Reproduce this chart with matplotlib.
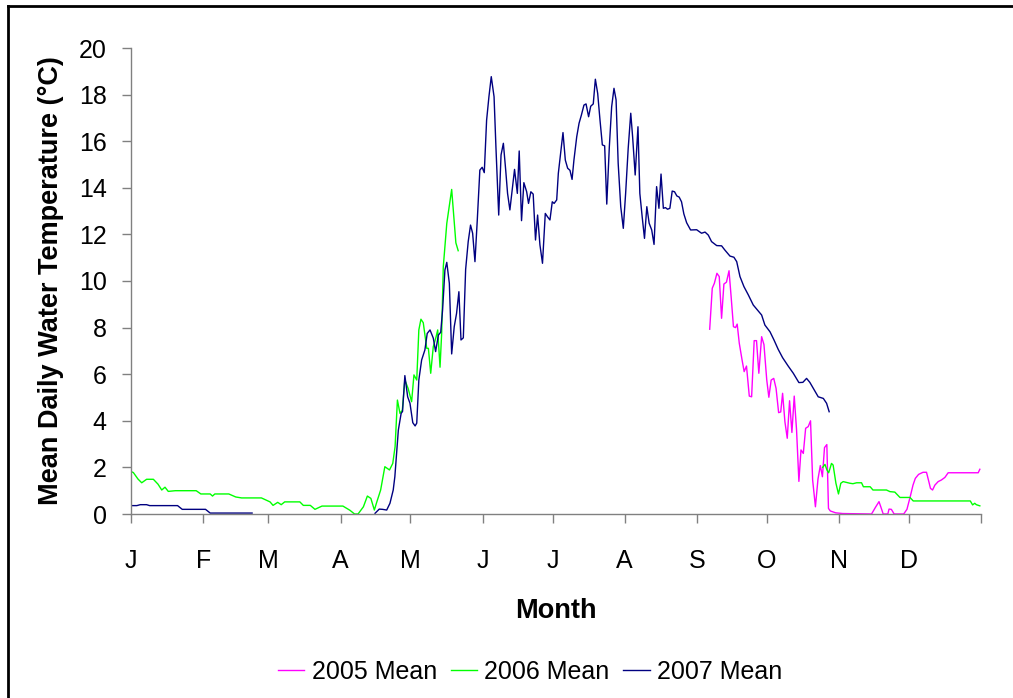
import numpy as np
import matplotlib
matplotlib.use("Agg")
import matplotlib.pyplot as plt
from matplotlib.lines import Line2D

plt.rcParams['font.family'] = ['Liberation Sans', 'DejaVu Sans']

# ---------------- data (day of year, mean daily water temperature) ----------------
month_labels = ["J", "F", "M", "A", "M", "J", "J", "A", "S", "O", "N", "D"]
month_starts = [0, 31, 59, 90, 120, 151, 181, 212, 243, 273, 304, 334, 365]

days_2005 = [248.5, 249.6, 250.5, 251.6, 252.6, 253.6, 254.6, 255.7, 256.8, 257.7, 258.7, 259.6,
             260.3, 261.2, 262.4, 263.3, 264.3, 265.5, 266.5, 267.6, 268.6, 269.6, 270.8, 271.8,
             273.0, 273.9, 274.9, 276.0, 277.0, 278.1, 279.0, 279.8, 280.8, 281.8, 282.8, 283.8,
             284.8, 285.8, 286.8, 287.7, 288.7, 289.7, 290.8, 291.8, 292.7, 293.9, 295.0, 296.0,
             296.9, 297.8, 298.8, 299.5, 300.3, 302.6, 305.6, 318.0, 319.7, 321.2, 322.0, 323.0,
             325.0, 325.5, 326.5, 327.7, 331.8, 333.2, 334.6, 335.8, 336.8, 338.2, 340.1, 341.6,
             342.6, 343.3, 344.2, 345.2, 346.6, 348.0, 349.5, 350.9, 363.8, 364.5]
temp_2005 = [7.93, 9.69, 9.90, 10.33, 10.19, 8.40, 9.87, 9.95, 10.44, 9.33, 8.04, 8.00,
             8.15, 7.33, 6.61, 6.11, 6.35, 5.06, 5.03, 7.44, 7.44, 6.04, 7.61, 7.27,
             5.75, 5.01, 5.75, 5.82, 5.39, 4.35, 4.38, 5.18, 3.96, 3.25, 4.86, 3.50,
             5.06, 3.60, 1.40, 2.75, 2.60, 3.68, 3.75, 4.00, 1.46, 0.31, 1.50, 2.08,
             1.60, 2.85, 2.98, 0.24, 0.13, 0.05, 0.02, 0.00, 0.29, 0.53, 0.30, 0.00,
             0.00, 0.21, 0.20, 0.00, 0.00, 0.20, 0.74, 1.24, 1.53, 1.70, 1.79, 1.79,
             1.39, 1.10, 1.03, 1.24, 1.39, 1.46, 1.57, 1.77, 1.77, 1.92]

days_2006 = [0, 1, 3, 4.6, 6.7, 9.6, 11.6, 13.2, 14.6, 16, 19, 28, 30, 34, 35, 36, 42, 45,
             47.5, 56, 59.7, 61, 63, 64.5, 66, 72.5, 74, 77, 79, 82, 91, 94, 96, 97.5, 99.8,
             101.5, 103, 104.5, 105.5, 107.2, 109, 111, 112.4, 113.4, 114.4, 115.5, 116.5,
             117.6, 119, 120.5, 121.5, 122.7, 123.6, 124.5, 125.5, 127, 127.7, 128.7, 129.8,
             131, 131.7, 132.7, 133.4, 134.1, 135.6, 137.7, 139.5, 140.5,
             np.nan,
             297, 298, 298.8, 299.6, 300.8, 301.5, 302.7, 303.8, 304.8, 305.8, 308.7, 310,
             311.6, 313.7, 314.5, 317.4, 318.6, 324.4, 325.9, 328, 330.2, 334.5, 335.9,
             360.4, 361.4, 362.3, 363, 364.5]
temp_2006 = [1.82, 1.78, 1.50, 1.34, 1.49, 1.49, 1.28, 1.03, 1.15, 0.97, 1.00, 1.00, 0.86, 0.86,
             0.77, 0.86, 0.86, 0.73, 0.69, 0.69, 0.52, 0.37, 0.50, 0.40, 0.52, 0.52, 0.37, 0.37,
             0.20, 0.34, 0.34, 0.16, 0.00, 0.00, 0.31, 0.77, 0.67, 0.17, 0.50, 1.03, 2.03, 1.89,
             2.17, 2.89, 4.89, 4.32, 4.45, 5.75, 5.39, 4.82, 5.97, 5.75, 7.90, 8.36, 8.21, 7.11,
             7.11, 6.04, 7.18, 7.60, 7.90, 6.30, 7.75, 10.61, 12.47, 13.93, 11.64, 11.30,
             np.nan,
             2.00, 2.13, 1.90, 1.77, 2.17, 2.10, 1.32, 0.86, 1.32, 1.39, 1.32, 1.30,
             1.34, 1.34, 1.17, 1.17, 1.03, 1.03, 0.96, 0.94, 0.71, 0.71, 0.56,
             0.56, 0.39, 0.46, 0.40, 0.35]

days_2007 = [0, 2.5, 4, 6.7, 8, 20, 22, 32, 34, 52,
             np.nan,
             104.8, 106.6, 108, 109.8, 111.2, 112.6, 113.3, 114.8, 116, 116.6, 117.6, 118.8,
             119.8, 121, 122, 122.7, 123.6, 124.8, 126.2, 127.2, 128.4, 129.8, 130.8, 132, 133,
             133.8, 134.8, 135.6, 136.7, 137.7, 138.8, 139.8, 140.8, 141.7, 142.7, 143.7, 144.8,
             145.8, 146.7, 147.7, 148.7, 149.8, 150.8, 151.7, 152.7, 153.7, 154.7, 155.9, 156.7,
             157.9, 158.9, 159.9, 160.9, 161.7, 162.7, 163.7, 164.7, 165.9, 166.7, 167.7, 168.7,
             169.9, 170.7, 171.7, 172.7, 173.7, 174.6, 175.6, 176.7, 177.9, 178.9, 179.9, 180.9,
             181.7, 182.8, 183.5, 184.5, 185.5, 186.5, 187.5, 188.5, 189.4, 190.2, 191.4, 192.4,
             193.4, 194.5, 195.4, 196.5, 197.4, 198.5, 199.4, 200.4, 201.4, 202.4, 203.4, 204.3,
             205.4, 206.4, 207.4, 208.3, 209.2, 210.3, 211.4, 212.4, 213.5, 214.6, 215.4, 216.5,
             217.7, 218.5, 219.5, 220.5, 221.5, 222.5, 223.6, 224.6, 225.7, 226.7, 227.6, 228.6,
             229.5, 230.4, 231.4, 232.4, 233.4, 234.4, 235.4, 236.4, 237.4, 238.6, 240.3, 242.9,
             245, 246.5, 247.9, 249.3, 251.5, 253.6, 255, 257.2, 258.9, 260.1, 261.5, 263.2,
             265.1, 267.2, 269.4, 270.8, 272.2, 274.4, 276.1, 277.9, 279.8, 282.2, 284.4, 286.8,
             288.5, 290.1, 291.5, 293, 295.1, 297.3, 298.7, 299.8]
temp_2007 = [0.36, 0.36, 0.40, 0.40, 0.36, 0.36, 0.20, 0.20, 0.04, 0.04,
             np.nan,
             0.03, 0.21, 0.20, 0.17, 0.46, 1.03, 1.60, 3.60, 4.32, 4.40, 5.94, 5.03,
             4.75, 3.92, 3.78, 3.90, 5.75, 6.61, 7.04, 7.75, 7.90, 7.55, 6.97, 7.68, 7.80,
             8.76, 10.47, 10.80, 9.90, 6.87, 8.04, 8.61, 9.54, 7.47, 7.56, 10.50, 11.69,
             12.40, 12.05, 10.83, 12.62, 14.76, 14.88, 14.65, 16.90, 17.91, 18.77, 17.91, 15.76,
             12.83, 15.41, 15.91, 14.76, 13.76, 13.05, 13.90, 14.79, 13.76, 15.58, 12.59, 14.22,
             13.83, 13.33, 13.83, 13.73, 11.76, 12.83, 11.55, 10.76, 12.90, 12.75, 12.62, 13.40,
             13.33, 13.48, 14.62, 15.48, 16.37, 15.19, 14.84, 14.75, 14.36, 15.19, 16.19, 16.77,
             17.12, 17.55, 17.60, 17.05, 17.50, 17.60, 18.66, 18.05, 16.90, 15.84, 15.80, 13.30,
             15.76, 17.48, 18.27, 17.77, 15.05, 13.19, 12.26, 13.76, 15.69, 17.20, 16.19, 14.55,
             16.62, 13.76, 12.76, 11.83, 13.19, 12.48, 12.19, 11.57, 14.05, 13.12, 14.59, 13.12,
             13.15, 13.08, 13.12, 13.86, 13.83, 13.65, 13.60, 13.40, 12.88, 12.50, 12.19, 12.20,
             12.05, 12.10, 11.97, 11.69, 11.52, 11.51, 11.33, 11.07, 11.02, 10.83, 10.19, 9.76,
             9.40, 8.97, 8.71, 8.54, 8.11, 7.82, 7.47, 7.07, 6.71, 6.35, 6.04, 5.64,
             5.65, 5.82, 5.65, 5.39, 5.03, 4.96, 4.75, 4.39]

series_labels = ["2005 Mean", "2006 Mean", "2007 Mean"]
series_colors = ["#FF00FF", "#00FF00", "#000080"]

# ---------------- figure ----------------
W, H = 1013, 698
fig = plt.figure(figsize=(W / 100, H / 100), dpi=100)
ax = fig.add_axes([131 / W, 1 - 514 / H, 850 / W, 466 / H])

for d, t, lab, col in zip([days_2005, days_2006, days_2007],
                          [temp_2005, temp_2006, temp_2007],
                          series_labels, series_colors):
    ax.plot(d, t, color=col, lw=1.0, label=lab)

ax.set_xlim(0, 365)
ax.set_ylim(0, 20)
ax.set_yticks(np.arange(0, 21, 2))
ax.set_xticks(month_starts)
ax.set_xticklabels(month_labels + [""])

for s in ["top", "right"]:
    ax.spines[s].set_visible(False)
for s in ["left", "bottom"]:
    ax.spines[s].set_color("#808080")
    ax.spines[s].set_linewidth(1.0)

ax.tick_params(axis="both", direction="out", color="#808080", width=1.0, length=6.5,
               labelsize=18, labelcolor="black")
ax.tick_params(axis="x", pad=19)
ax.tick_params(axis="y", pad=11)

ax.set_ylabel("Mean Daily Water Temperature (°C)", fontsize=19.5, fontweight="bold", labelpad=10.5)
ax.set_xlabel("Month", fontsize=19.5, fontweight="bold", labelpad=17.5)

leg = fig.legend(loc="center", bbox_to_anchor=(530 / W, 1 - 672 / H), ncol=3, frameon=False,
                 fontsize=18, handlelength=1.05, handletextpad=0.3, columnspacing=0.55)

# outer frame (partially visible in the reference)
fig.add_artist(Line2D([7.5 / W, 1.0], [1 - 5.5 / H, 1 - 5.5 / H], transform=fig.transFigure,
                      color="black", lw=2.0))
fig.add_artist(Line2D([7.5 / W, 7.5 / W], [0.0, 1 - 5.5 / H], transform=fig.transFigure,
                      color="black", lw=2.0))

fig.savefig("out.png", dpi=100)
